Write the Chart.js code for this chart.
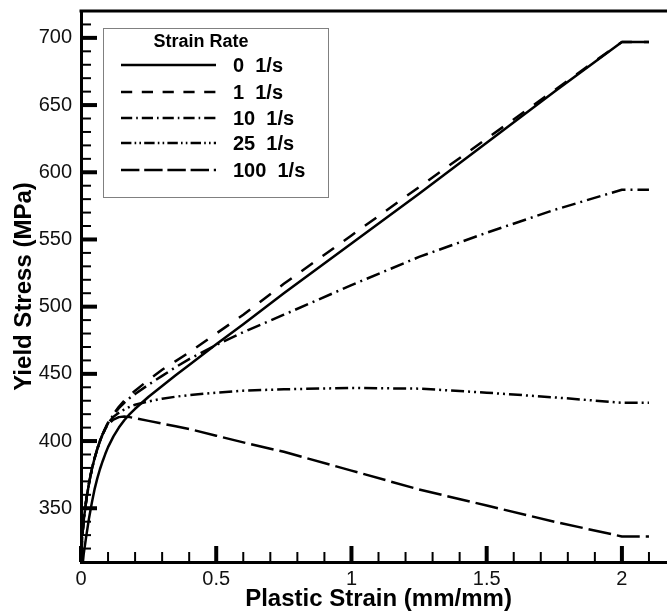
<!DOCTYPE html>
<html>
<head>
<meta charset="utf-8">
<script src="https://cdn.jsdelivr.net/npm/chart.js@4.4.1/dist/chart.umd.min.js"></script>
<style>
  html, body { margin: 0; padding: 0; background: #fff; }
  #wrap { width: 667px; height: 615px; overflow: hidden; }
  #box { width: 690px; height: 615px; }
</style>
</head>
<body>
<div id="wrap"><div id="box"><canvas id="stressChart"></canvas></div></div>
<script>
// plastic strain (mm/mm) shared by every curve
const strain = [0, 0.005, 0.01, 0.02, 0.03, 0.04, 0.05, 0.06, 0.07, 0.08, 0.09, 0.1, 0.12, 0.14, 0.16, 0.18, 0.2, 0.25, 0.3, 0.35, 0.4, 0.5, 0.6, 0.75, 1.0, 1.25, 1.5, 1.75, 2.0, 2.1];

// yield stress (MPa) per strain rate
const rate0   = [296, 306, 316, 330, 343, 354, 364, 372, 379, 385, 390.5, 395.5, 403.5, 410, 415.5, 420, 424, 433, 441, 449, 456.5, 472, 487, 510, 547, 584, 622, 660, 697, 697];
const rate1   = [310, 330, 341, 357, 369, 379, 387, 394, 400, 405, 409.5, 413.5, 420, 425.5, 430, 434, 437.5, 445.5, 453, 459.5, 466, 480, 494, 517, 553, 589, 625, 661, 697, 697];
const rate10  = [310, 330, 341, 357, 369, 379, 387, 394, 400, 405, 409.5, 413.5, 419.5, 424.5, 428.5, 432, 435, 442, 448.5, 455, 461, 471.5, 481, 494, 516, 537, 555, 572, 587, 587];
const rate25  = [310, 330, 341, 357, 369, 379, 387, 394, 400, 405, 409.5, 413.5, 418, 421, 423.5, 425.5, 427, 429.5, 431.5, 433, 434.2, 436, 437.5, 438.5, 439.5, 439, 436, 432.5, 428.5, 428.5];
const rate100 = [310, 330, 341, 357, 369, 379, 387, 394, 400, 405, 409, 412.5, 416, 417.8, 418.2, 417.8, 417, 415, 413, 411, 409, 404, 399, 392, 378, 364, 352, 340, 329, 329];

const rateLabels = ['0  1/s', '1  1/s', '10  1/s', '25  1/s', '100  1/s'];

const xTicks = [0, 0.5, 1, 1.5, 2];
const yTicks = [350, 400, 450, 500, 550, 600, 650, 700];

Chart.defaults.font.family = '"Liberation Sans", Arial, sans-serif';
Chart.defaults.color = '#111';

function pts(ys) {
  return strain.map((x, i) => ({ x, y: ys[i] }));
}

const dashes = [[], [14, 12], [14, 5, 2, 5], [13, 4, 2, 4, 2, 4], [23, 6]];
const series = [rate0, rate1, rate10, rate25, rate100];

const datasets = series.map((ys, i) => ({
  label: rateLabels[i],
  data: pts(ys),
  borderColor: '#000',
  borderWidth: 2.5,
  borderDash: dashes[i],
  borderCapStyle: 'butt',
  borderJoinStyle: 'round',
  pointRadius: 0,
  tension: 0,
  fill: false
}));

// tick marks point into the plot, top frame line, boxed legend
const frame = {
  id: 'frame',
  afterDraw(chart) {
    const { ctx, chartArea: a, scales: { x, y } } = chart;
    ctx.save();
    ctx.strokeStyle = '#000';
    ctx.setLineDash([]);

    const seg = (x1, y1, x2, y2, w) => {
      ctx.lineWidth = w;
      ctx.beginPath();
      ctx.moveTo(x1, y1);
      ctx.lineTo(x2, y2);
      ctx.stroke();
    };

    // x minor every 0.1, major every 0.5
    for (let k = 1; k <= 21; k++) {
      if (k % 5 === 0) continue;
      const px = x.getPixelForValue(k / 10);
      seg(px, a.bottom, px, a.bottom - 10, 2);
    }
    xTicks.forEach(v => {
      const px = x.getPixelForValue(v);
      seg(px, a.bottom, px, a.bottom - 16, 4);
    });

    // y minor every 10, major every 50
    for (let v = 320; v < 720; v += 10) {
      if (v % 50 === 0) continue;
      const py = y.getPixelForValue(v);
      seg(a.left, py, a.left + 10, py, 2);
    }
    yTicks.forEach(v => {
      const py = y.getPixelForValue(v);
      seg(a.left, py, a.left + 16, py, 4);
    });

    // top edge of the frame
    seg(a.left - 1.5, a.top, a.right, a.top, 3);

    // legend
    const lx = a.left + 22, ly = a.top + 17, lw = 225, lh = 169;
    ctx.fillStyle = '#fff';
    ctx.fillRect(lx, ly, lw, lh);
    ctx.strokeStyle = '#808080';
    ctx.lineWidth = 1;
    ctx.strokeRect(lx + 0.5, ly + 0.5, lw, lh);

    ctx.fillStyle = '#000';
    ctx.textBaseline = 'middle';
    ctx.textAlign = 'center';
    ctx.font = 'bold 18px "Liberation Sans", Arial, sans-serif';
    ctx.fillText('Strain Rate', lx + 98, ly + 14);

    ctx.textAlign = 'left';
    ctx.font = 'bold 20px "Liberation Sans", Arial, sans-serif';
    const rowY = [37, 64, 90, 115, 142];
    chart.data.datasets.forEach((ds, i) => {
      const ry = ly + rowY[i];
      ctx.strokeStyle = '#000';
      ctx.lineWidth = 2.5;
      ctx.lineCap = 'butt';
      ctx.setLineDash(ds.borderDash.map(d => d * 0.8));
      ctx.beginPath();
      ctx.moveTo(lx + 18, ry);
      ctx.lineTo(lx + 113, ry);
      ctx.stroke();
      ctx.setLineDash([]);
      ctx.fillText(ds.label, lx + 130, ry + 1);
    });
    ctx.restore();
  }
};

new Chart(document.getElementById('stressChart'), {
  type: 'line',
  data: { datasets },
  options: {
    responsive: true,
    maintainAspectRatio: false,
    animation: false,
    layout: { padding: { left: 0, top: 11, right: 14, bottom: 0 } },
    plugins: {
      legend: { display: false },
      tooltip: { enabled: false }
    },
    scales: {
      x: {
        type: 'linear',
        min: 0,
        max: 2.2,
        afterFit: s => { s.height = 53; s.paddingLeft = 0; s.paddingRight = 0; },
        afterBuildTicks: s => { s.ticks = xTicks.map(v => ({ value: v })); },
        grid: { display: false, drawTicks: false },
        border: { display: true, width: 3, color: '#000' },
        ticks: {
          font: { size: 20 },
          padding: 5,
          maxRotation: 0,
          autoSkip: false,
          callback: v => String(v)
        },
        title: {
          display: true,
          text: 'Plastic Strain (mm/mm)',
          color: '#000',
          font: { size: 24, weight: 'bold' },
          padding: { top: 0, bottom: 1 }
        }
      },
      y: {
        type: 'linear',
        min: 310,
        max: 720,
        afterFit: s => { s.width = 81; s.paddingTop = 0; s.paddingBottom = 0; },
        afterBuildTicks: s => { s.ticks = yTicks.map(v => ({ value: v })); },
        grid: { display: false, drawTicks: false },
        border: { display: true, width: 3, color: '#000' },
        ticks: {
          font: { size: 20 },
          padding: 9,
          autoSkip: false,
          callback: v => String(v)
        },
        title: {
          display: true,
          text: 'Yield Stress (MPa)',
          color: '#000',
          font: { size: 24, weight: 'bold' },
          padding: { top: 10, bottom: 0 }
        }
      }
    }
  },
  plugins: [frame]
});
</script>
</body>
</html>
